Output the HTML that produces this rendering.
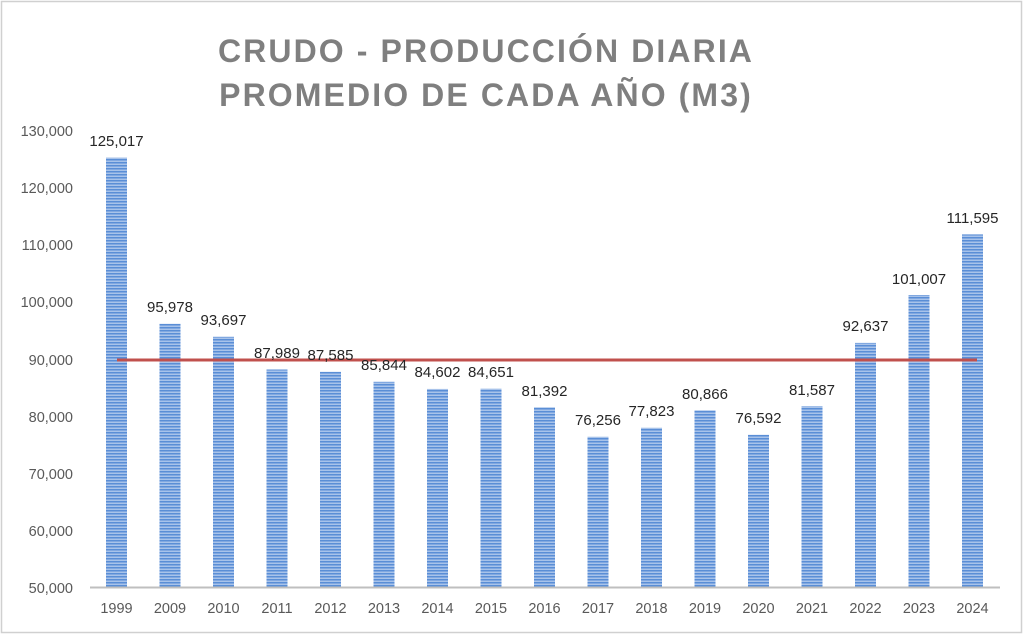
<!DOCTYPE html>
<html><head><meta charset="utf-8"><style>
html,body{margin:0;padding:0;background:#fff;}
svg{display:block;font-family:"Liberation Sans",Calibri,sans-serif;}
</style></head><body>
<svg width="1024" height="635" viewBox="0 0 1024 635" xmlns="http://www.w3.org/2000/svg">
<defs>
<pattern id="st" width="4" height="3" patternUnits="userSpaceOnUse">
<rect width="4" height="3" fill="#a8c3ea"/>
<rect width="4" height="1.5" fill="#5a8ed6"/>
</pattern>
</defs>
<rect x="1.5" y="1.5" width="1020" height="631" fill="#fff" stroke="#d0d0d0" stroke-width="1.5"/>
<text x="486" y="62" text-anchor="middle" font-size="32" font-weight="bold" fill="#7f7f7f" letter-spacing="2.1">CRUDO - PRODUCCIÓN DIARIA</text>
<text x="486" y="106" text-anchor="middle" font-size="32" font-weight="bold" fill="#7f7f7f" letter-spacing="2.1">PROMEDIO DE CADA AÑO (M3)</text>
<g font-size="14.5" fill="#595959" text-anchor="end">
<text x="73" y="136">130,000</text>
<text x="73" y="193">120,000</text>
<text x="73" y="250">110,000</text>
<text x="73" y="307">100,000</text>
<text x="73" y="365">90,000</text>
<text x="73" y="422">80,000</text>
<text x="73" y="479">70,000</text>
<text x="73" y="536">60,000</text>
<text x="73" y="593">50,000</text>
</g>
<g fill="url(#st)">
<rect x="106" y="157.5" width="21" height="429.5"/>
<rect x="159.5" y="323.8" width="21" height="263.2"/>
<rect x="213" y="336.8" width="21" height="250.2"/>
<rect x="266.5" y="369.5" width="21" height="217.5"/>
<rect x="320" y="371.8" width="21" height="215.2"/>
<rect x="373.5" y="381.8" width="21" height="205.2"/>
<rect x="427" y="388.9" width="21" height="198.1"/>
<rect x="480.5" y="388.6" width="21" height="198.4"/>
<rect x="534" y="407.3" width="21" height="179.7"/>
<rect x="587.5" y="436.7" width="21" height="150.3"/>
<rect x="641" y="427.7" width="21" height="159.3"/>
<rect x="694.5" y="410.3" width="21" height="176.7"/>
<rect x="748" y="434.8" width="21" height="152.2"/>
<rect x="801.5" y="406.2" width="21" height="180.8"/>
<rect x="855" y="342.9" width="21" height="244.1"/>
<rect x="908.5" y="295.0" width="21" height="292.0"/>
<rect x="962" y="234.4" width="21" height="352.6"/>
</g>
<line x1="90" y1="587.5" x2="1000" y2="587.5" stroke="#bfbfbf" stroke-width="2"/>
<line x1="117" y1="360" x2="977" y2="360" stroke="#c0504d" stroke-width="3"/>
<g font-size="15" fill="#262626" text-anchor="middle">
<text x="116.5" y="146">125,017</text>
<text x="170" y="312">95,978</text>
<text x="223.5" y="325">93,697</text>
<text x="277" y="358">87,989</text>
<text x="330.5" y="360">87,585</text>
<text x="384" y="370">85,844</text>
<text x="437.5" y="377">84,602</text>
<text x="491" y="377">84,651</text>
<text x="544.5" y="396">81,392</text>
<text x="598" y="425">76,256</text>
<text x="651.5" y="416">77,823</text>
<text x="705" y="399">80,866</text>
<text x="758.5" y="423">76,592</text>
<text x="812" y="395">81,587</text>
<text x="865.5" y="331">92,637</text>
<text x="919" y="284">101,007</text>
<text x="972.5" y="223">111,595</text>
</g>
<g font-size="14.5" fill="#595959" text-anchor="middle">
<text x="116.5" y="613">1999</text>
<text x="170" y="613">2009</text>
<text x="223.5" y="613">2010</text>
<text x="277" y="613">2011</text>
<text x="330.5" y="613">2012</text>
<text x="384" y="613">2013</text>
<text x="437.5" y="613">2014</text>
<text x="491" y="613">2015</text>
<text x="544.5" y="613">2016</text>
<text x="598" y="613">2017</text>
<text x="651.5" y="613">2018</text>
<text x="705" y="613">2019</text>
<text x="758.5" y="613">2020</text>
<text x="812" y="613">2021</text>
<text x="865.5" y="613">2022</text>
<text x="919" y="613">2023</text>
<text x="972.5" y="613">2024</text>
</g>
</svg>
</body></html>
